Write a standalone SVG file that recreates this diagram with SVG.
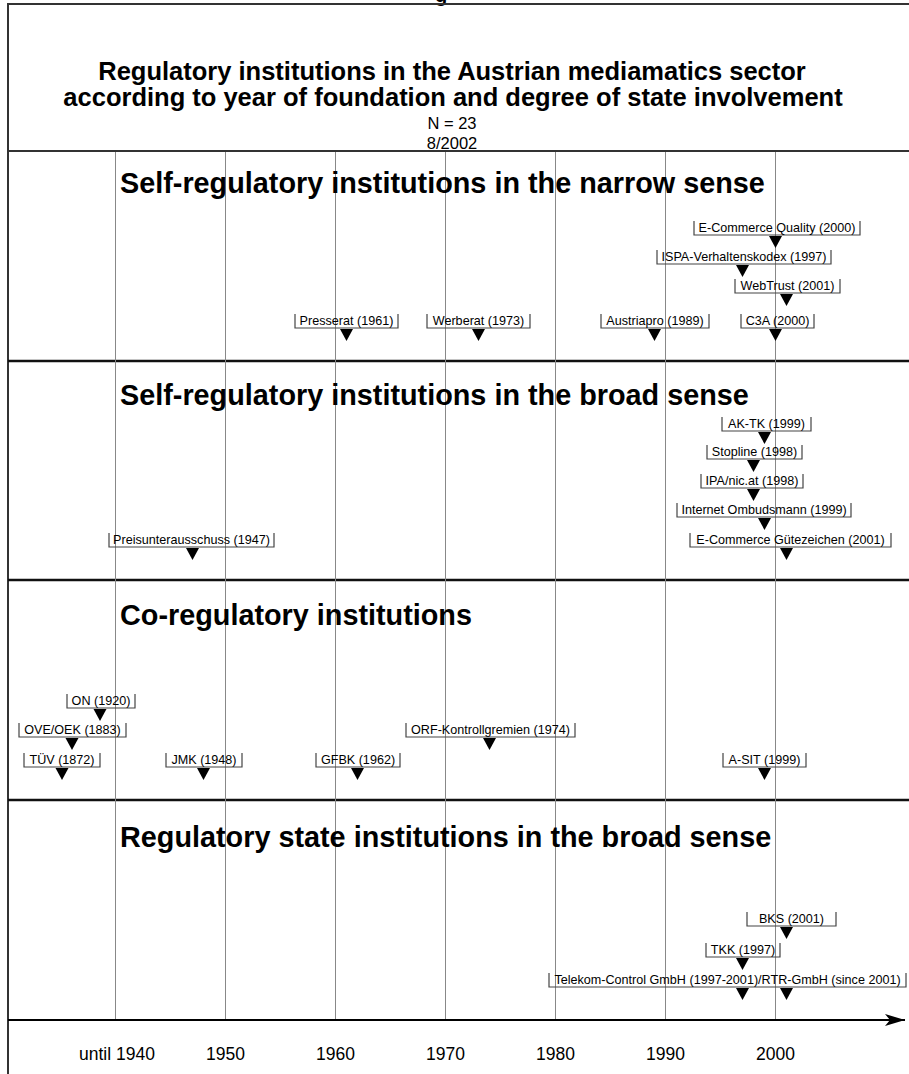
<svg xmlns="http://www.w3.org/2000/svg" width="909" height="1074" viewBox="0 0 909 1074">
<style>
.frame{stroke:#333;stroke-width:2;fill:none}
.sep{stroke:#111;stroke-width:2.5;fill:none}
.grid{stroke:#888;stroke-width:1;fill:none}
.box{stroke:#444;stroke-width:1.2;fill:none}
.tri{fill:#000}
.lbl{font-family:"Liberation Sans",Arial,sans-serif;font-size:12.6px;fill:#000;text-anchor:middle}
.title{font-family:"Liberation Sans",Arial,sans-serif;font-size:25.5px;font-weight:bold;fill:#000;text-anchor:middle}
.sub{font-family:"Liberation Sans",Arial,sans-serif;font-size:16.5px;fill:#000;text-anchor:middle}
.sec{font-family:"Liberation Sans",Arial,sans-serif;font-size:28.8px;font-weight:bold;fill:#000}
.yr{font-family:"Liberation Sans",Arial,sans-serif;font-size:17.5px;fill:#000;text-anchor:middle}
</style>
<defs>
<marker id="axisArrow" viewBox="0 0 20 12" refX="20" refY="6" markerWidth="20" markerHeight="12" markerUnits="userSpaceOnUse" orient="auto">
<path d="M0,0L20,6L0,12L5,6z" fill="#000"/>
</marker>
</defs>
<rect width="909" height="1074" fill="#fff"/>
<text x="441" y="1.5" style="font-family:'Liberation Sans',Arial,sans-serif;font-size:20px;font-weight:bold" text-anchor="middle">g</text>

<g id="frame">
<path class="frame" d="M8,1074V4H909"/>
<path class="frame" d="M8,151H909"/>
<path class="sep" d="M8,361H909M8,580H909M8,800H909"/>
</g>

<g id="header">
<text class="title" x="452" y="80">Regulatory institutions in the Austrian mediamatics sector</text>
<text class="title" x="453" y="106">according to year of foundation and degree of state involvement</text>
<text class="sub" x="452" y="129">N = 23</text>
<text class="sub" x="452" y="148.5">8/2002</text>
</g>

<g id="gridlines">
<path class="grid" d="M115.5,152V1020M225.5,152V1020M335.5,152V1020M445.5,152V1020M555.5,152V1020M665.5,152V1020M775.5,152V1020"/>
</g>

<g id="section-titles">
<text class="sec" x="120" y="193">Self-regulatory institutions in the narrow sense</text>
<text class="sec" x="120" y="405">Self-regulatory institutions in the broad sense</text>
<text class="sec" x="120" y="625">Co-regulatory institutions</text>
<text class="sec" x="120" y="847">Regulatory state institutions in the broad sense</text>
</g>

<g id="connectors">
<path d="M8,1020H905" stroke="#000" stroke-width="2" fill="none" marker-end="url(#axisArrow)"/>
</g>

<g id="n-ecq"><path class="box" d="M694,221V235H860V221"/><text class="lbl" x="777" y="232">E-Commerce Quality (2000)</text><path class="tri" d="M769,236h13l-6.5,12z"/></g>
<g id="n-ispa"><path class="box" d="M657,250V264H831V250"/><text class="lbl" x="744" y="261">ISPA-Verhaltenskodex (1997)</text><path class="tri" d="M736,265h13l-6.5,12z"/></g>
<g id="n-webtrust"><path class="box" d="M735,279V293H840V279"/><text class="lbl" x="787.5" y="290">WebTrust (2001)</text><path class="tri" d="M780,294h13l-6.5,12z"/></g>
<g id="n-presserat"><path class="box" d="M295,314V328H398V314"/><text class="lbl" x="346.5" y="325">Presserat (1961)</text><path class="tri" d="M340,329h13l-6.5,12z"/></g>
<g id="n-werberat"><path class="box" d="M427,314V328H530V314"/><text class="lbl" x="478.5" y="325">Werberat (1973)</text><path class="tri" d="M472,329h13l-6.5,12z"/></g>
<g id="n-austriapro"><path class="box" d="M601,314V328H709V314"/><text class="lbl" x="655" y="325">Austriapro (1989)</text><path class="tri" d="M648,329h13l-6.5,12z"/></g>
<g id="n-c3a"><path class="box" d="M741,314V328H814V314"/><text class="lbl" x="777.5" y="325">C3A (2000)</text><path class="tri" d="M769,329h13l-6.5,12z"/></g>

<g id="n-aktk"><path class="box" d="M722,417V431H811V417"/><text class="lbl" x="766.5" y="428">AK-TK (1999)</text><path class="tri" d="M758,432h13l-6.5,12z"/></g>
<g id="n-stopline"><path class="box" d="M707,445V459H802V445"/><text class="lbl" x="754.5" y="456">Stopline (1998)</text><path class="tri" d="M747,460h13l-6.5,12z"/></g>
<g id="n-ipa"><path class="box" d="M701,474V488H803V474"/><text class="lbl" x="752" y="485">IPA/nic.at (1998)</text><path class="tri" d="M747,489h13l-6.5,12z"/></g>
<g id="n-ombudsmann"><path class="box" d="M677,503V517H851V503"/><text class="lbl" x="764" y="514">Internet Ombudsmann (1999)</text><path class="tri" d="M758,518h13l-6.5,12z"/></g>
<g id="n-preis"><path class="box" d="M109,533V547H274V533"/><text class="lbl" x="191.5" y="544">Preisunterausschuss (1947)</text><path class="tri" d="M186,548h13l-6.5,12z"/></g>
<g id="n-ecg"><path class="box" d="M690,533V547H891V533"/><text class="lbl" x="790.5" y="544">E-Commerce Gütezeichen (2001)</text><path class="tri" d="M780,548h13l-6.5,12z"/></g>

<g id="n-on"><path class="box" d="M67,694V708H135V694"/><text class="lbl" x="101" y="705">ON (1920)</text><path class="tri" d="M93.5,709h13l-6.5,12z"/></g>
<g id="n-ove"><path class="box" d="M19,723V737H126V723"/><text class="lbl" x="72.5" y="734">OVE/OEK (1883)</text><path class="tri" d="M65.5,738h13l-6.5,12z"/></g>
<g id="n-orf"><path class="box" d="M406,723V737H575V723"/><text class="lbl" x="490.5" y="734">ORF-Kontrollgremien (1974)</text><path class="tri" d="M483,738h13l-6.5,12z"/></g>
<g id="n-tuev"><path class="box" d="M24,753V767H100V753"/><text class="lbl" x="62" y="764">TÜV (1872)</text><path class="tri" d="M55.5,768h13l-6.5,12z"/></g>
<g id="n-jmk"><path class="box" d="M166,753V767H242V753"/><text class="lbl" x="204" y="764">JMK (1948)</text><path class="tri" d="M197,768h13l-6.5,12z"/></g>
<g id="n-gfbk"><path class="box" d="M316,753V767H400V753"/><text class="lbl" x="358" y="764">GFBK (1962)</text><path class="tri" d="M351,768h13l-6.5,12z"/></g>
<g id="n-asit"><path class="box" d="M723,753V767H806V753"/><text class="lbl" x="764.5" y="764">A-SIT (1999)</text><path class="tri" d="M758,768h13l-6.5,12z"/></g>

<g id="n-bks"><path class="box" d="M747,912V926H836V912"/><text class="lbl" x="791.5" y="923">BKS (2001)</text><path class="tri" d="M780,927h13l-6.5,12z"/></g>
<g id="n-tkk"><path class="box" d="M706,943V957H780V943"/><text class="lbl" x="743" y="954">TKK (1997)</text><path class="tri" d="M736,958h13l-6.5,12z"/></g>
<g id="n-telekom"><path class="box" d="M549,973V987H906V973"/><text class="lbl" x="727.5" y="984">Telekom-Control GmbH (1997-2001)/RTR-GmbH (since 2001)</text><path class="tri" d="M736,988h13l-6.5,12z"/><path class="tri" d="M780,988h13l-6.5,12z"/></g>

<g id="axis-labels">
<text class="yr" x="117" y="1060">until 1940</text>
<text class="yr" x="225.5" y="1060">1950</text>
<text class="yr" x="335.5" y="1060">1960</text>
<text class="yr" x="445.5" y="1060">1970</text>
<text class="yr" x="555.5" y="1060">1980</text>
<text class="yr" x="665.5" y="1060">1990</text>
<text class="yr" x="775.5" y="1060">2000</text>
</g>
</svg>
